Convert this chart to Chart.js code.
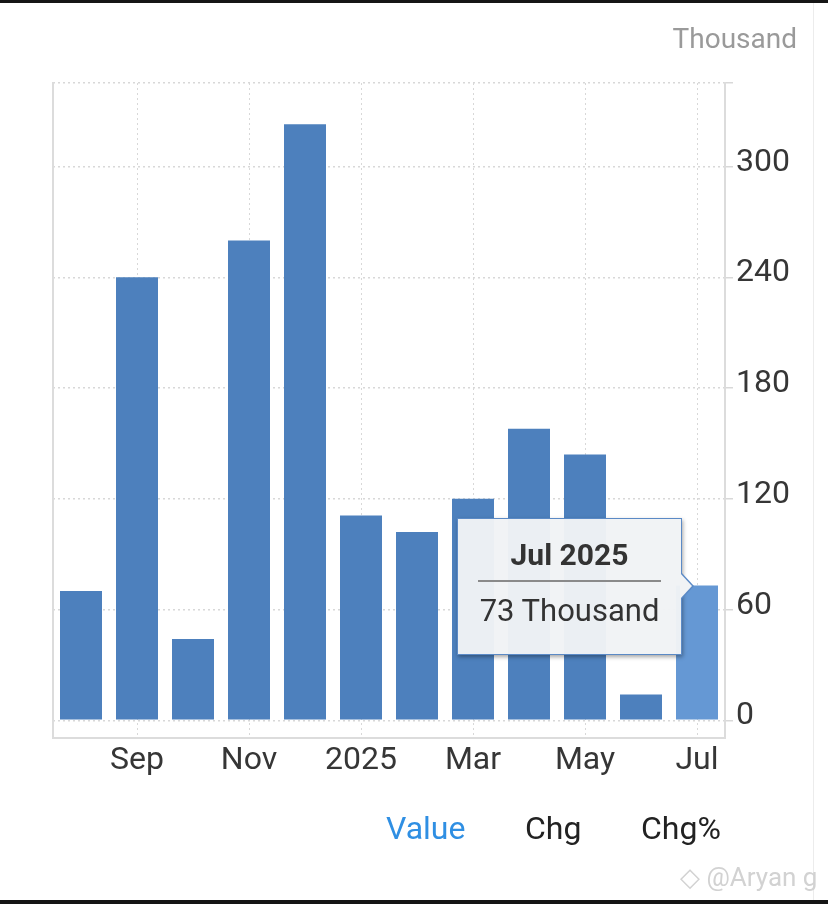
<!DOCTYPE html>
<html>
<head>
<meta charset="utf-8">
<script src="https://cdn.jsdelivr.net/npm/chart.js@4.4.1/dist/chart.umd.min.js"></script>
<style>
  html, body { margin: 0; padding: 0; background: #fff; }
  body { width: 828px; height: 904px; position: relative; overflow: hidden; font-family: Roboto, sans-serif; }
  #wrap { position: absolute; left: 0; top: 0; width: 828px; height: 904px; }
  .topbar { position: absolute; left: 0; top: 0; width: 828px; height: 3px; background: #151515; }
  .botbar { position: absolute; left: 0; top: 900px; width: 828px; height: 4px; background: #151515; }
  .rline { position: absolute; left: 813px; top: 3px; width: 1px; height: 897px; background: #ececec; }
  .unit { position: absolute; right: 31px; top: 22px; font-size: 28px; color: #9a9a9a; }
  .tabs { position: absolute; top: 809px; font-size: 32px; }
  .wm { position: absolute; left: 680px; top: 862px; font-size: 26px; color: #d2d2d2; }
  #tip {
    position: absolute; width: 225px; height: 137px; box-sizing: border-box;
    background: rgba(241,243,245,0.97); border: 1px solid #5b8ac6;
    box-shadow: 1px 2px 4px rgba(0,0,0,0.35);
    display: none; text-align: center; pointer-events: none;
  }
  #tip .t { font-weight: bold; font-size: 30px; color: #333; margin-top: 18px; }
  #tip .sep { height: 2px; background: #8a8a8a; margin: 8px 20px 0 20px; }
  #tip .b { font-size: 31px; color: #333; margin-top: 10px; }
  #tip .c1, #tip .c2 { position: absolute; width: 0; height: 0; border-style: solid; top: 50%; }
  #tip .c1 { right: -13px; margin-top: -14px; border-width: 14px 0 14px 13px; border-color: transparent transparent transparent #5b8ac6; }
  #tip .c2 { right: -11px; margin-top: -13px; border-width: 13px 0 13px 12px; border-color: transparent transparent transparent #f1f3f5; }
</style>
</head>
<body>
<div id="wrap"><canvas id="chart" width="828" height="904"></canvas></div>
<div class="topbar"></div>
<div class="botbar"></div>
<div class="rline"></div>
<div class="unit">Thousand</div>
<div class="tabs" style="left:386px;color:#2f8fe3;">Value</div>
<div class="tabs" style="left:525px;color:#222;">Chg</div>
<div class="tabs" style="left:641px;color:#222;">Chg%</div>
<div class="wm">◇ @Aryan g</div>
<div id="tip"><div class="c1"></div><div class="c2"></div><div class="t"></div><div class="sep"></div><div class="b"></div></div>
<script>
// monthly values, thousands
const months = ['Aug 2024', 'Sep 2024', 'Oct 2024', 'Nov 2024', 'Dec 2024', 'Jan 2025',
                'Feb 2025', 'Mar 2025', 'Apr 2025', 'May 2025', 'Jun 2025', 'Jul 2025'];
const values = [70, 240, 44, 260, 323, 111, 102, 120, 158, 144, 14, 73];
const tickLabels = ['', 'Sep', '', 'Nov', '', '2025', '', 'Mar', '', 'May', '', 'Jul'];
const yTicks = [0, 60, 120, 180, 240, 300];
const yMin = -9.6, yMax = 345.3;
const unit = 'Thousand';
const activeIndex = 11;

const gridCol = '#d8d8d8';
const lineCol = '#dcdcdc';

function externalTip(context) {
    const tip = document.getElementById('tip');
    const t = context.tooltip;
    if (!t || t.opacity === 0) { tip.style.display = 'none'; return; }
    const idx = t.dataPoints[0].dataIndex;
    tip.querySelector('.t').textContent = months[idx];
    tip.querySelector('.b').textContent = values[idx] + ' ' + unit;
    tip.style.display = 'block';
    const cv = context.chart.canvas;
    tip.style.left = (cv.offsetLeft + t.caretX - 15 - 225) + 'px';
    tip.style.top = (cv.offsetTop + t.caretY - 68) + 'px';
}

const chart = new Chart(document.getElementById('chart').getContext('2d'), {
    type: 'bar',
    data: {
        labels: months,
        datasets: [{
            data: values,
            backgroundColor: '#4d80bd',
            hoverBackgroundColor: '#6598d4',
            borderWidth: 0,
            barPercentage: 0.75,
            categoryPercentage: 1
        }]
    },
    options: {
        responsive: false,
        animation: false,
        events: [],
        layout: { padding: { left: 53, top: 83, right: 0, bottom: 0 } },
        plugins: {
            legend: { display: false },
            tooltip: { enabled: false, external: externalTip, mode: 'index', intersect: false }
        },
        scales: {
            x: {
                position: 'bottom',
                offset: true,
                grid: { display: true, offset: false, color: gridCol, drawTicks: false },
                border: { display: true, color: lineCol, width: 2, dash: [2, 3] },
                afterBuildTicks: (s) => { s.ticks = s.ticks.filter(t => tickLabels[t.value] !== ''); },
                afterFit: (s) => { s.height = 904 - 738; },
                ticks: {
                    autoSkip: false, maxRotation: 0, padding: 4,
                    color: '#363636', font: { family: 'Roboto', size: 32 },
                    callback: (v) => tickLabels[v]
                }
            },
            x2: {
                position: 'top',
                grid: { display: false },
                ticks: { display: false },
                border: { display: false },
                afterFit: (s) => { s.height = 0; }
            },
            y: {
                position: 'right',
                min: yMin,
                max: yMax,
                afterBuildTicks: (s) => { s.ticks = yTicks.concat([yMax]).map(v => ({ value: v })); },
                afterFit: (s) => { s.width = 828 - 725; },
                grid: { color: gridCol, tickLength: 8, lineWidth: 1.5 },
                border: { display: true, color: lineCol, width: 2, dash: [2, 3] },
                ticks: {
                    padding: 3, labelOffset: -4,
                    color: '#363636', font: { family: 'Roboto', size: 32 },
                    callback: (v) => yTicks.includes(v) ? v : ''
                }
            },
            y2: {
                position: 'left',
                grid: { display: false },
                ticks: { display: false },
                border: { display: true, color: lineCol, width: 2 },
                afterFit: (s) => { s.width = 0; }
            }
        }
    }
});

const act = [{ datasetIndex: 0, index: activeIndex }];
chart.setActiveElements(act);
chart.tooltip.setActiveElements(act, { x: 0, y: 0 });
chart.update();
</script>
</body>
</html>
